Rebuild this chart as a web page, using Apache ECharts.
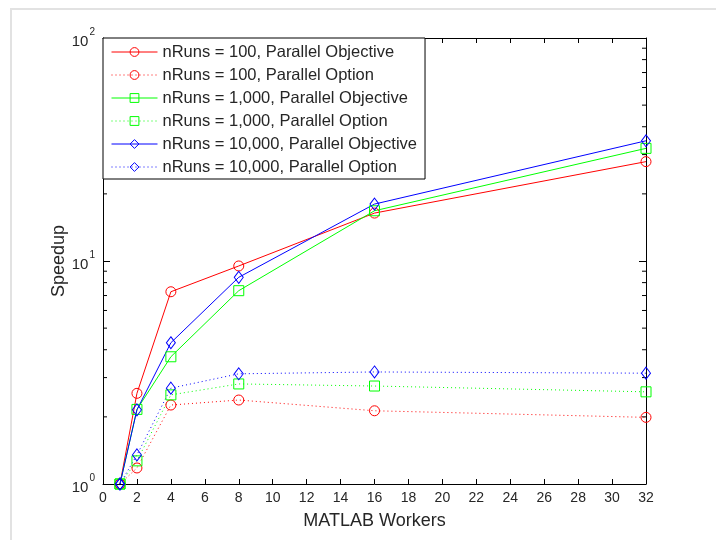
<!DOCTYPE html>
<html>
<head>
<meta charset="utf-8">
<script src="https://cdn.jsdelivr.net/npm/echarts@6/dist/echarts.min.js"></script>
<style>
  html, body { margin: 0; padding: 0; background: #fff; }
  #chart { width: 716px; height: 540px; }
</style>
</head>
<body>
<div id="chart"></div>
<script>
// MATLAB workers on the x axis
const workers = [1, 2, 4, 8, 16, 32]

// Speedup
const runs100Objective = [1, 2.55, 7.28, 9.5, 16.4, 27.9]
const runs100Option = [1, 1.18, 2.26, 2.38, 2.13, 1.99]
const runs1000Objective = [1, 2.16, 3.72, 7.36, 16.8, 32.0]
const runs1000Option = [1, 1.27, 2.51, 2.81, 2.75, 2.59]
const runs10000Objective = [1, 2.15, 4.3, 8.45, 18.0, 34.6]
const runs10000Option = [1, 1.35, 2.69, 3.12, 3.18, 3.14]

const seriesNames = [
  'nRuns = 100, Parallel Objective',
  'nRuns = 100, Parallel Option',
  'nRuns = 1,000, Parallel Objective',
  'nRuns = 1,000, Parallel Option',
  'nRuns = 10,000, Parallel Objective',
  'nRuns = 10,000, Parallel Option',
]

// minor ticks of the log axis (2..9 in each decade)
const minorTickValues = [2, 3, 4, 5, 6, 7, 8, 9, 20, 30, 40, 50, 60, 70, 80, 90]

const xMin = 0
const xMax = 32

const font = '"Liberation Sans", Arial, Helvetica, sans-serif'
const labelColor = '#262626'

function pairs(values) {
  return workers.map((w, i) => [w, values[i]])
}

function lineSeries(name, values, color, symbol, size, dotted) {
  return {
    name,
    type: 'line',
    data: pairs(values),
    symbol,
    symbolSize: size,
    showSymbol: true,
    lineStyle: { color, width: 1, type: dotted ? [1, 3] : 'solid' },
    itemStyle: { color: 'rgba(255,255,255,0)', borderColor: color, borderWidth: 1 },
    emphasis: { disabled: true },
    z: 3,
  }
}

function logLabel(v) {
  const e = Math.round(Math.log10(v))
  return '{b|10}{s|' + e + '}'
}

const chart = echarts.init(document.getElementById('chart'))

const option = {
  animation: false,
  backgroundColor: '#fff',
  textStyle: { fontFamily: font },
  graphic: [{
    type: 'rect',
    shape: { x: 11, y: 9, width: 800, height: 700 },
    style: { fill: '#fff', stroke: '#e2e2e2', lineWidth: 2 },
    z: -10,
    silent: true,
  }],
  grid: { left: 103, right: 70, top: 38, bottom: 56, containLabel: false, outerBoundsMode: 'none' },
  legend: {
    data: seriesNames,
    orient: 'vertical',
    left: 103,
    top: 38,
    padding: [5, 8, 3, 8],
    itemWidth: 46,
    itemHeight: 11,
    itemGap: 5,
    lineStyle: { width: 1 },
    itemStyle: { borderWidth: 1 },
    textStyle: { fontFamily: font, fontSize: 16.5, lineHeight: 17, color: labelColor, padding: [1, 0, 0, 0] },
    backgroundColor: '#fff',
    borderColor: '#000',
    borderWidth: 1,
    borderRadius: 0,
    selectedMode: false,
  },
  xAxis: [{
    type: 'value',
    min: xMin,
    max: xMax,
    interval: 2,
    name: 'MATLAB Workers',
    nameLocation: 'middle',
    nameGap: 28,
    nameTextStyle: { fontFamily: font, fontSize: 18, color: labelColor },
    axisLine: { show: true, onZero: false, lineStyle: { color: '#000', width: 1 } },
    axisTick: { show: true, inside: true, length: 5, lineStyle: { color: '#000' } },
    axisLabel: { fontFamily: font, fontSize: 14, color: labelColor, margin: 7 },
    splitLine: { show: false },
  }, {
    type: 'value',
    position: 'top',
    min: xMin,
    max: xMax,
    interval: 2,
    axisLine: { show: true, onZero: false, lineStyle: { color: '#000', width: 1 } },
    axisTick: { show: true, inside: true, length: 5, lineStyle: { color: '#000' } },
    axisLabel: { show: false },
    splitLine: { show: false },
  }],
  yAxis: [{
    type: 'log',
    logBase: 10,
    min: 1,
    max: 100,
    interval: 1,
    name: 'Speedup',
    nameLocation: 'middle',
    nameGap: 35,
    nameMoveOverlap: false,
    nameRotate: 90,
    nameTextStyle: { fontFamily: font, fontSize: 18, color: labelColor },
    axisLine: { show: true, onZero: false, lineStyle: { color: '#000', width: 1 } },
    axisTick: { show: true, inside: true, length: 7, lineStyle: { color: '#000' } },
    axisLabel: {
      margin: 8,
      formatter: logLabel,
      rich: {
        b: { fontFamily: font, fontSize: 15, color: labelColor, padding: [7, 0, 0, 0] },
        s: { fontFamily: font, fontSize: 10, color: labelColor, verticalAlign: 'top', padding: [0, 0, 8, 1] },
      },
    },
    splitLine: { show: false },
  }, {
    type: 'log',
    logBase: 10,
    min: 1,
    max: 100,
    interval: 1,
    position: 'right',
    axisLine: { show: true, onZero: false, lineStyle: { color: '#000', width: 1 } },
    axisTick: { show: true, inside: true, length: 7, lineStyle: { color: '#000' } },
    axisLabel: { show: false },
    splitLine: { show: false },
  }],
  series: [
    lineSeries(seriesNames[0], runs100Objective, '#ff0000', 'circle', 10, false),
    lineSeries(seriesNames[1], runs100Option, '#ff0000', 'circle', 10, true),
    lineSeries(seriesNames[2], runs1000Objective, '#00ff00', 'rect', 10, false),
    lineSeries(seriesNames[3], runs1000Option, '#00ff00', 'rect', 10, true),
    lineSeries(seriesNames[4], runs10000Objective, '#0000ff', 'diamond', [9, 12], false),
    lineSeries(seriesNames[5], runs10000Option, '#0000ff', 'diamond', [9, 12], true),
    {
      // minor ticks on left and right edges of the log axis
      type: 'custom',
      silent: true,
      clip: false,
      z: 1,
      data: minorTickValues.map(v => [xMin, v]),
      renderItem(params, api) {
        const v = api.value(1)
        const left = api.coord([xMin, v])
        const right = api.coord([xMax, v])
        const len = 4
        const style = { stroke: '#000', lineWidth: 1 }
        return {
          type: 'group',
          children: [
            { type: 'line', shape: { x1: left[0], y1: left[1], x2: left[0] + len, y2: left[1] }, style },
            { type: 'line', shape: { x1: right[0], y1: right[1], x2: right[0] - len, y2: right[1] }, style },
          ],
        }
      },
    },
  ],
}

chart.setOption(option)
</script>
</body>
</html>
